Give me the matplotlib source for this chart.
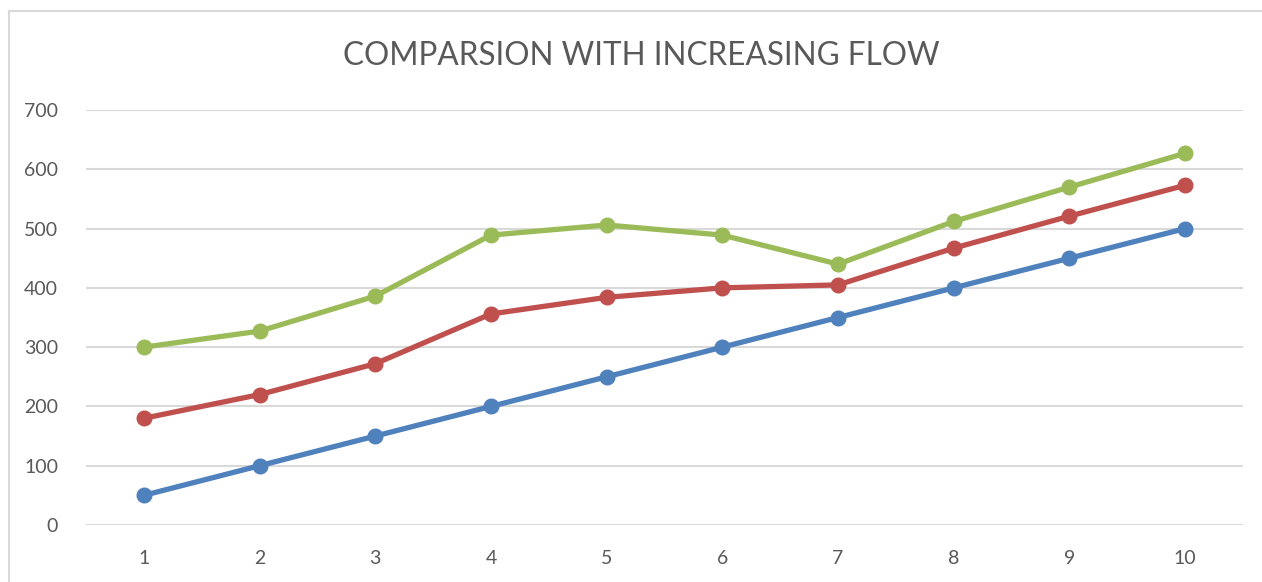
import matplotlib
matplotlib.use("Agg")
import matplotlib.pyplot as plt
from matplotlib.lines import Line2D

plt.rcParams['font.family'] = ['Lato', 'DejaVu Sans']

categories = [1, 2, 3, 4, 5, 6, 7, 8, 9, 10]
series_blue = [50, 100, 150, 200, 250, 300, 350, 400, 450, 500]
series_red = [180, 220, 272, 356, 384, 400, 405, 467, 521, 573]
series_green = [300, 327, 386, 489, 506, 489, 440, 512, 570, 627]
y_ticks = [0, 100, 200, 300, 400, 500, 600, 700]
title = "COMPARSION WITH INCREASING FLOW"

W, H = 1262, 582
fig = plt.figure(figsize=(W / 100, H / 100), dpi=100)
ax = fig.add_axes([86 / W, 1 - 525 / H, (1243 - 86) / W, (525 - 110) / H])

text_color = "#595959"
grid_color = "#D9D9D9"

for vals, col in [(series_blue, "#4F81BD"), (series_red, "#C0504D"), (series_green, "#9BBB59")]:
    ax.plot(categories, vals, color=col, lw=3.8, marker="o", markersize=10.5,
            solid_capstyle="round", zorder=3)

ax.set_xlim(0.5, 10.5)
ax.set_ylim(0, 700)
ax.set_yticks(y_ticks)
ax.set_xticks(categories)
ax.set_xticklabels([str(c) for c in categories])
ax.grid(axis="y", color=grid_color, lw=1.5)
ax.set_axisbelow(True)
for s in ax.spines.values():
    s.set_visible(False)
ax.tick_params(axis="both", length=0, labelsize=14, colors=text_color)
ax.tick_params(axis="y", pad=20)
ax.tick_params(axis="x", pad=18)

fig.text(641 / W, 1 - 56 / H, title, ha="center", va="center",
         fontsize=22.7, color=text_color)

# chart frame edges
fig.add_artist(Line2D([9 / W, 9 / W], [0, 1 - 11 / H], transform=fig.transFigure,
                      color=grid_color, lw=1.5))
fig.add_artist(Line2D([9 / W, 1], [1 - 11 / H, 1 - 11 / H], transform=fig.transFigure,
                      color=grid_color, lw=1.5))

fig.savefig("out.png", dpi=100)
